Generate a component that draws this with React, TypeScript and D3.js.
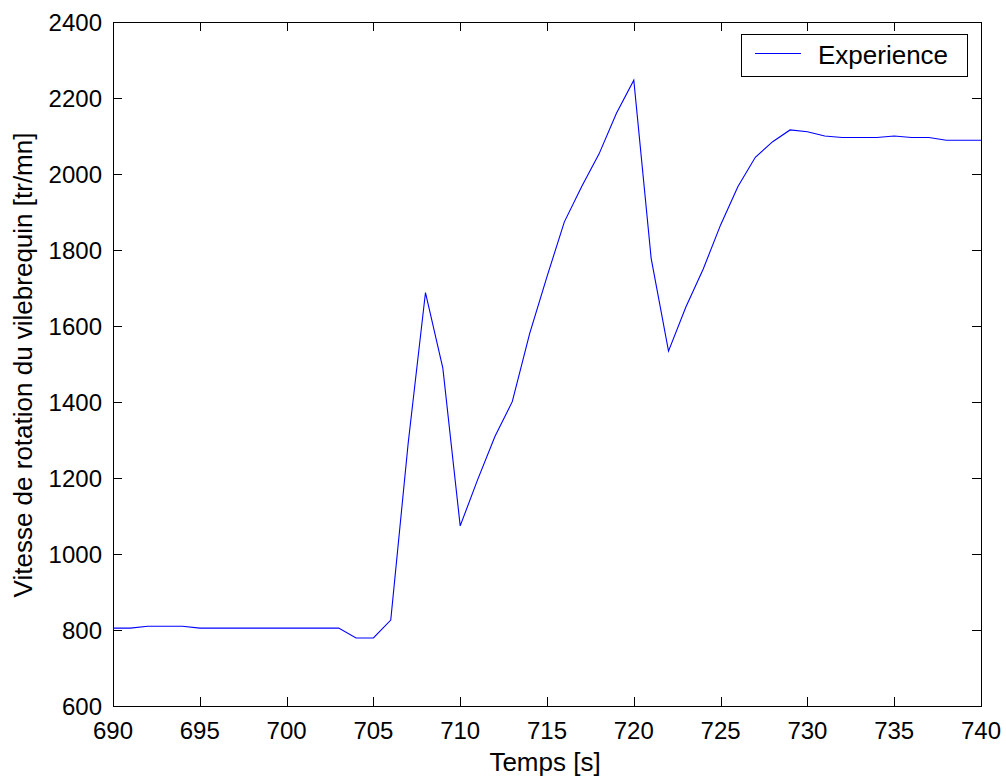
import React, { useEffect, useRef } from "react";
import * as d3 from "d3";

const times: number[] = d3.range(690, 741);
const speed: number[] = [
  805, 805, 810, 810, 810, 805, 805, 805, 805, 805,
  805, 805, 805, 805, 779, 779, 826, 1290, 1688, 1489,
  1074, 1195, 1309, 1401, 1580, 1730, 1874, 1967, 2053, 2160,
  2247, 1778, 1534, 1650, 1750, 1866, 1967, 2044, 2085, 2116,
  2111, 2100, 2096, 2096, 2096, 2100, 2096, 2096, 2089, 2089,
  2089,
];
const xTicks: number[] = [690, 695, 700, 705, 710, 715, 720, 725, 730, 735, 740];
const yTicks: number[] = [600, 800, 1000, 1200, 1400, 1600, 1800, 2000, 2200, 2400];
const seriesName = "Experience";
const xLabel = "Temps [s]";
const yLabel = "Vitesse de rotation du vilebrequin [tr/mn]";

export default function App() {
  const ref = useRef<SVGSVGElement>(null);
  useEffect(() => {
    const W = 1006, H = 780;
    const L = 113, R = 981, T = 22, B = 706;
    const svg = d3.select(ref.current);
    svg.selectAll("*").remove();
    const font = "'Liberation Sans', Arial, sans-serif";
    const x = d3.scaleLinear().domain([690, 740]).range([L, R]);
    const y = d3.scaleLinear().domain([600, 2400]).range([B, T]);

    svg.append("rect").attr("width", W).attr("height", H).attr("fill", "#fff");

    const tl = 9;
    const g = svg.append("g").attr("stroke", "#000").attr("stroke-width", 1).attr("shape-rendering", "crispEdges");
    xTicks.forEach((t) => {
      const px = Math.round(x(t)) + 0.5;
      g.append("line").attr("x1", px).attr("x2", px).attr("y1", B).attr("y2", B - tl);
      g.append("line").attr("x1", px).attr("x2", px).attr("y1", T).attr("y2", T + tl);
    });
    yTicks.forEach((t) => {
      const py = Math.round(y(t)) + 0.5;
      g.append("line").attr("x1", L).attr("x2", L + tl).attr("y1", py).attr("y2", py);
      g.append("line").attr("x1", R).attr("x2", R - tl).attr("y1", py).attr("y2", py);
    });
    g.append("rect").attr("x", L + 0.5).attr("y", T + 0.5).attr("width", R - L).attr("height", B - T).attr("fill", "none").attr("stroke-width", 1.5);

    const line = d3.line<number>().x((_, i) => x(times[i])).y((d) => y(d));
    svg.append("path").datum(speed).attr("d", line).attr("fill", "none").attr("stroke", "#0000ff").attr("stroke-width", 1.1);

    const txt = svg.append("g").attr("font-family", font).attr("fill", "#000");
    xTicks.forEach((t) => {
      txt.append("text").attr("x", x(t)).attr("y", 739).attr("font-size", 24).attr("text-anchor", "middle").text(String(t));
    });
    yTicks.forEach((t) => {
      txt.append("text").attr("x", 102).attr("y", y(t) + 9).attr("font-size", 24).attr("text-anchor", "end").text(String(t));
    });
    txt.append("text").attr("x", 545).attr("y", 771).attr("font-size", 26).attr("text-anchor", "middle").text(xLabel);
    txt.append("text").attr("transform", `translate(32,365) rotate(-90)`).attr("font-size", 26).attr("text-anchor", "middle").text(yLabel);

    const lg = svg.append("g");
    lg.append("rect").attr("x", 741.5).attr("y", 34.5).attr("width", 226).attr("height", 42).attr("fill", "#fff").attr("stroke", "#000").attr("stroke-width", 1.5).attr("shape-rendering", "crispEdges");
    lg.append("line").attr("x1", 755).attr("x2", 801).attr("y1", 53.5).attr("y2", 53.5).attr("stroke", "#0000ff").attr("stroke-width", 1);
    lg.append("text").attr("x", 818).attr("y", 64).attr("font-family", font).attr("font-size", 26).text(seriesName);
  }, []);
  return <svg ref={ref} width={1006} height={780} style={{ position: "absolute", left: 0, top: 0, display: "block" }} />;
}
